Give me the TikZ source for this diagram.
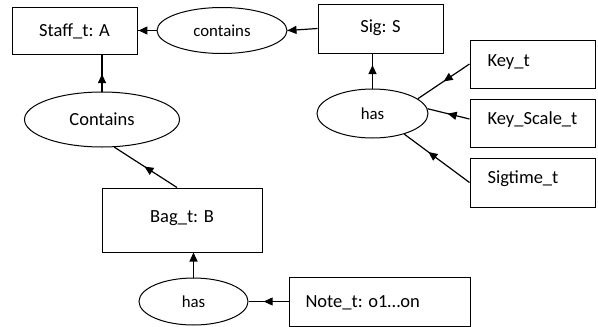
\documentclass[tikz,border=0pt]{standalone}
\usepackage{fontspec}
\setmainfont{Carlito}
\usetikzlibrary{arrows.meta,decorations.markings,shapes.geometric}
\begin{document}
\begin{tikzpicture}[x=1pt,y=-1pt,
  box/.style={draw,line width=1pt,inner sep=0pt},
  oval/.style={draw,ellipse,line width=1pt,inner sep=0pt},
  big/.style={font=\fontsize{18.5}{22}\selectfont},
  small/.style={font=\fontsize{16.8}{20}\selectfont},
  conn/.style={line width=1.2pt},
  midarrow/.style={conn,decoration={markings,mark=at position #1 with {\arrow{Triangle[length=9pt,width=8pt]}}},postaction=decorate}]
\useasboundingbox (0,0) rectangle (598,327);
% boxes
\node[box,minimum width=125,minimum height=47] (staff) at (74.5,30.5) {};
\node[big] (stafft) at (74.5,31) {Staff\_t: A};
\node[box,minimum width=125,minimum height=49] (sig) at (380.5,28.5) {};
\node[big,anchor=base] (sigt) at (380.5,32) {Sig: S};
\node[box,minimum width=125,minimum height=48] (key) at (532.5,64) {};
\node[big,anchor=base west] (keyt) at (484,66) {Key\_t};
\node[box,minimum width=125,minimum height=48] (ks) at (532.5,123) {};
\node[big,anchor=base west] (kst) at (484,124) {Key\_Scale\_t};
\node[box,minimum width=125,minimum height=49] (st) at (532.5,182.5) {};
\node[big,anchor=base west] (stt) at (484,183) {Sigtime\_t};
\node[box,minimum width=160,minimum height=64] (bag) at (182,220) {};
\node[big] (bagt) at (182,218) {Bag\_t: B};
\node[box,minimum width=181,minimum height=49] (note) at (379.5,301.5) {};
\node[big,anchor=base west] (notet) at (302,307) {Note\_t: o1…on};
% ellipses
\node[oval,small,minimum width=130,minimum height=46] (cont) at (222,30.5) {contains};
\node[oval,small,minimum width=111,minimum height=49] (hasu) at (372.5,113.5) {has};
\node[oval,big,minimum width=155,minimum height=55] (Cont) at (102,119.5) {Contains};
\node[oval,small,minimum width=109,minimum height=47] (hasl) at (193.5,301.5) {has};
% connectors
\draw[midarrow=0.95] (cont.west) -- (staff.east);
\draw[midarrow=1] (sig.west) -- (cont.east);
\draw[midarrow=0.47] (Cont.north) -- (Cont.north |- staff.south);
\draw[midarrow=0.67] (hasu.north) -- (hasu.north |- sig.south);
\draw[midarrow=0.5] (key.west) -- (hasu.18);
\draw[midarrow=0.52] ([yshift=4pt]ks.west) -- (hasu.5);
\draw[midarrow=0.63] (st.west) -- (hasu.-33);
\draw[midarrow=0.52] ([xshift=-5pt]bag.north) -- (Cont.-66);
\draw[midarrow=1] (hasl.north) -- (hasl.north |- bag.south);
\draw[midarrow=0.62] (note.west) -- (hasl.east);
\end{tikzpicture}
\end{document}
